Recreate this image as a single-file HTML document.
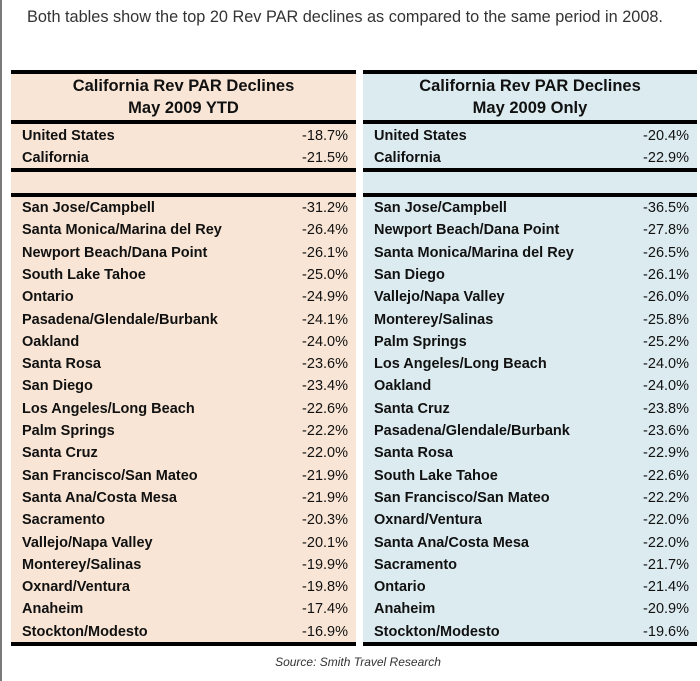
<!DOCTYPE html>
<html><head><style>
body{margin:0;width:700px;height:681px;background:#fff;position:relative;overflow:hidden;font-family:"Liberation Sans",sans-serif}
.vl{position:absolute;left:0;top:0;width:2px;height:681px;background:#7a7a7a}
.intro{position:absolute;left:27px;top:8px;font-size:16.3px;color:#333}
.t{position:absolute;top:70px;height:576px}
.bar{position:absolute;left:0;right:0;height:4px;background:#000}
.h{position:absolute;left:0;right:0;text-align:center;font-weight:bold;font-size:16.5px;color:#111;line-height:22px}
.r{position:absolute;left:11px;right:8px;font-weight:bold;font-size:14.5px;color:#111;height:22px;line-height:22px}
.r span{position:absolute;right:0;font-weight:normal}
.src{position:absolute;left:0;width:716px;top:655px;text-align:center;font-style:italic;font-size:12px;color:#333}
</style></head><body>
<div class="vl"></div>
<div class="intro">Both tables show the top 20 Rev PAR declines as compared to the same period in 2008.</div>
<div class="t" id="L" style="left:11px;width:345px;background:#f8e5d5"></div>
<div class="t" id="R" style="left:363px;width:334px;background:#dcebf0"></div>
<div class="src">Source: Smith Travel Research</div>
<script>
function build(id,title,top2,rows){
 var e=document.getElementById(id),h='';
 [0,50,98,123,572].forEach(function(y){h+='<div class="bar" style="top:'+y+'px"></div>'});
 h+='<div class="h" style="top:5px">California Rev PAR Declines<br>'+title+'</div>';
 top2.forEach(function(r,i){h+='<div class="r" style="top:'+(55+i*22)+'px">'+r[0]+'<span>'+r[1]+'</span></div>'});
 rows.forEach(function(r,i){h+='<div class="r" style="top:'+(127+i*22.3)+'px">'+r[0]+'<span>'+r[1]+'</span></div>'});
 e.innerHTML=h;
}
var t2a=[["United States","-18.7%"],["California","-21.5%"]];
var t2b=[["United States","-20.4%"],["California","-22.9%"]];
var a=[["San Jose/Campbell","-31.2%"],["Santa Monica/Marina del Rey","-26.4%"],["Newport Beach/Dana Point","-26.1%"],["South Lake Tahoe","-25.0%"],["Ontario","-24.9%"],["Pasadena/Glendale/Burbank","-24.1%"],["Oakland","-24.0%"],["Santa Rosa","-23.6%"],["San Diego","-23.4%"],["Los Angeles/Long Beach","-22.6%"],["Palm Springs","-22.2%"],["Santa Cruz","-22.0%"],["San Francisco/San Mateo","-21.9%"],["Santa Ana/Costa Mesa","-21.9%"],["Sacramento","-20.3%"],["Vallejo/Napa Valley","-20.1%"],["Monterey/Salinas","-19.9%"],["Oxnard/Ventura","-19.8%"],["Anaheim","-17.4%"],["Stockton/Modesto","-16.9%"]];
var b=[["San Jose/Campbell","-36.5%"],["Newport Beach/Dana Point","-27.8%"],["Santa Monica/Marina del Rey","-26.5%"],["San Diego","-26.1%"],["Vallejo/Napa Valley","-26.0%"],["Monterey/Salinas","-25.8%"],["Palm Springs","-25.2%"],["Los Angeles/Long Beach","-24.0%"],["Oakland","-24.0%"],["Santa Cruz","-23.8%"],["Pasadena/Glendale/Burbank","-23.6%"],["Santa Rosa","-22.9%"],["South Lake Tahoe","-22.6%"],["San Francisco/San Mateo","-22.2%"],["Oxnard/Ventura","-22.0%"],["Santa Ana/Costa Mesa","-22.0%"],["Sacramento","-21.7%"],["Ontario","-21.4%"],["Anaheim","-20.9%"],["Stockton/Modesto","-19.6%"]];
build("L","May 2009 YTD",t2a,a);
build("R","May 2009 Only",t2b,b);
</script>
</body></html>
